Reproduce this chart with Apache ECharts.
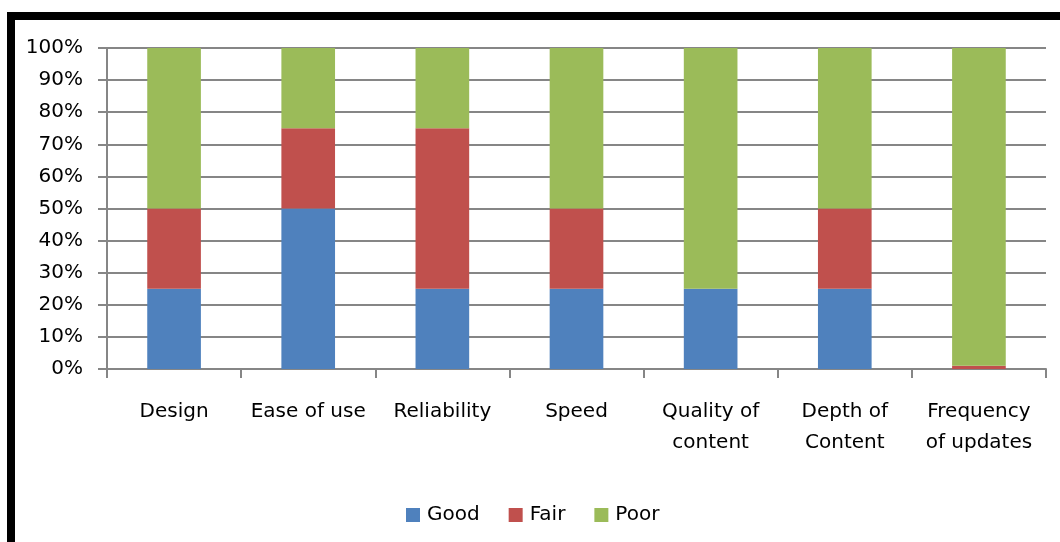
<!DOCTYPE html>
<html>
<head>
<meta charset="utf-8">
<script src="https://cdn.jsdelivr.net/npm/echarts@6/dist/echarts.min.js"></script>
<style>
  html, body { margin: 0; padding: 0; background: #fff; }
  #chart { width: 1060px; height: 542px; }
</style>
</head>
<body>
<div id="chart"></div>
<script>
// Survey ratings per website aspect, as share of responses (%)
const categories = ['Design', 'Ease of use', 'Reliability', 'Speed', 'Quality of\ncontent', 'Depth of\nContent', 'Frequency\nof updates'];
const good = [25, 50, 25, 25, 25, 25, 0];
const fair = [25, 25, 50, 25, 0, 25, 1];
const poor = [50, 25, 25, 50, 75, 50, 99];
const seriesNames = ['Good', 'Fair', 'Poor'];
const colors = ['#4F81BD', '#C0504D', '#9BBB59'];

const font = 'DejaVu Sans';
const chart = echarts.init(document.getElementById('chart'));

chart.setOption({
  animation: false,
  color: colors,
  textStyle: { fontFamily: font, color: '#000' },
  grid: { left: 107, right: 14, top: 48, bottom: 173 },
  legend: {
    data: seriesNames,
    left: 406,
    top: 505,
    padding: 0,
    itemWidth: 14,
    itemHeight: 14,
    itemGap: 29,
    icon: 'rect',
    textStyle: { fontFamily: font, fontSize: 20, color: '#000', padding: [0, 0, 0, 2] }
  },
  xAxis: {
    type: 'category',
    data: categories,
    axisLine: { lineStyle: { color: '#868686', width: 2 } },
    axisTick: { show: true, length: 9, alignWithLabel: false, lineStyle: { color: '#868686', width: 2 } },
    axisLabel: { fontFamily: font, fontSize: 20, color: '#000', margin: 27, lineHeight: 31, interval: 0 }
  },
  yAxis: {
    type: 'value',
    min: 0,
    max: 100,
    interval: 10,
    axisLine: { show: true, lineStyle: { color: '#868686', width: 2 } },
    axisTick: { show: true, length: 9, lineStyle: { color: '#868686', width: 2 } },
    splitLine: { lineStyle: { color: '#868686', width: 2 } },
    axisLabel: { fontFamily: font, fontSize: 20, color: '#000', margin: 24, formatter: '{value}%' }
  },
  series: [
    { name: 'Good', type: 'bar', stack: 'total', data: good, barWidth: '40%' },
    { name: 'Fair', type: 'bar', stack: 'total', data: fair, barWidth: '40%' },
    { name: 'Poor', type: 'bar', stack: 'total', data: poor, barWidth: '40%' }
  ],
  graphic: [
    { type: 'rect', shape: { x: 7, y: 12, width: 1053, height: 8 }, style: { fill: '#000' } },
    { type: 'rect', shape: { x: 7, y: 12, width: 8, height: 530 }, style: { fill: '#000' } }
  ]
});
</script>
</body>
</html>
